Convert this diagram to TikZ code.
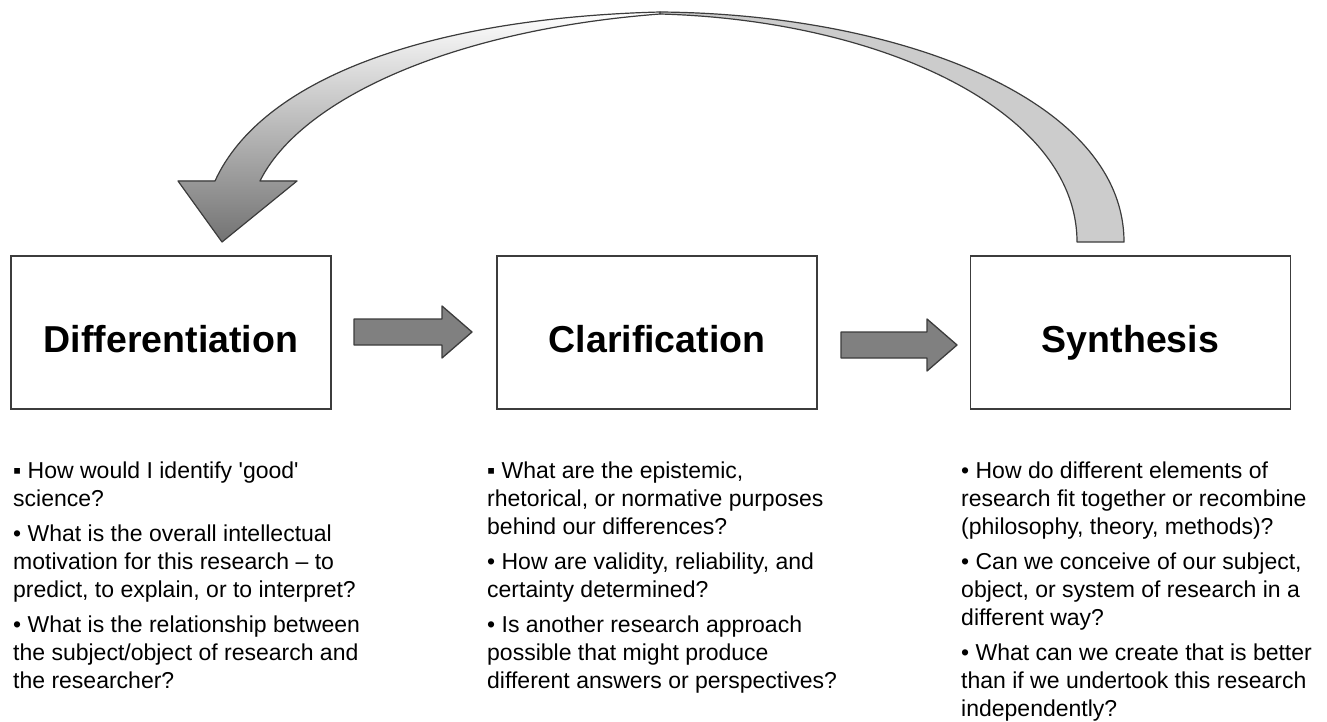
\documentclass[tikz,border=0pt]{standalone}
\usepackage{fontspec}
\setmainfont{Liberation Sans}
\definecolor{edgegray}{HTML}{3C3C3C}
\definecolor{arrowgray}{HTML}{808080}
\definecolor{tailgray}{HTML}{CCCCCC}
\tikzset{
  stage/.style={draw=edgegray, line width=1.4pt, minimum width=320pt, minimum height=153pt,
    inner sep=0pt, outer sep=0pt, text height=47pt, text depth=8pt,
    font=\fontsize{37.5}{40}\selectfont\bfseries},
  questions/.style={anchor=north west, inner sep=0pt, align=left,
    font=\fontsize{23}{28}\selectfont},
  blockarrow/.style={fill=arrowgray, draw=edgegray, line width=1.3pt, line join=round},
}
\begin{document}
\begin{tikzpicture}[x=1pt,y=-1pt]
  \useasboundingbox (0,0) rectangle (1327,722);
  % curved return arrow
  \filldraw[fill=tailgray, draw=edgegray, line width=1.2pt, line join=round]
    (660,12) .. controls (900,14) and (1124,100) .. (1124,242)
    -- (1077,242) .. controls (1077,110) and (880,20) .. (660,14) -- cycle;
  \filldraw[top color=white, bottom color=black!55, draw=edgegray, line width=1.2pt, line join=round]
    (660,12) .. controls (430,18) and (262,78) .. (215,181)
    -- (178,181) -- (222,242) -- (297,181) -- (260,181)
    .. controls (300,100) and (450,30) .. (660,14) -- cycle;

  \node[stage] (diff) at (171,332.5) {Differentiation};
  \node[stage] (clar) at (657,332.5) {Clarification};
  \node[stage] (synt) at (1130.5,332.5) {Synthesis};

  \filldraw[blockarrow, shift={(354,332)}]
    (0,-13) -- (88,-13) -- (88,-26) -- (118,0) -- (88,26) -- (88,13) -- (0,13) -- cycle;
  \filldraw[blockarrow, shift={(841,345)}]
    (0,-13) -- (86,-13) -- (86,-26) -- (116,0) -- (86,26) -- (86,13) -- (0,13) -- cycle;

  \node[questions] (diffq) at (13,462) {%
    ▪ How would I identify \textquotesingle good\textquotesingle\\
    science?\\[7pt]
    • What is the overall intellectual\\
    motivation for this research – to\\
    predict, to explain, or to interpret?\\[7pt]
    • What is the relationship between\\
    the subject/object of research and\\
    the researcher?};
  \node[questions] (clarq) at (487,462) {%
    ▪ What are the epistemic,\\
    rhetorical, or normative purposes\\
    behind our differences?\\[7pt]
    • How are validity, reliability, and\\
    certainty determined?\\[7pt]
    • Is another research approach\\
    possible that might produce\\
    different answers or perspectives?};
  \node[questions] (syntq) at (961,462) {%
    • How do different elements of\\
    research fit together or recombine\\
    (philosophy, theory, methods)?\\[7pt]
    • Can we conceive of our subject,\\
    object, or system of research in a\\
    different way?\\[7pt]
    • What can we create that is better\\
    than if we undertook this research\\
    independently?};
\end{tikzpicture}
\end{document}
